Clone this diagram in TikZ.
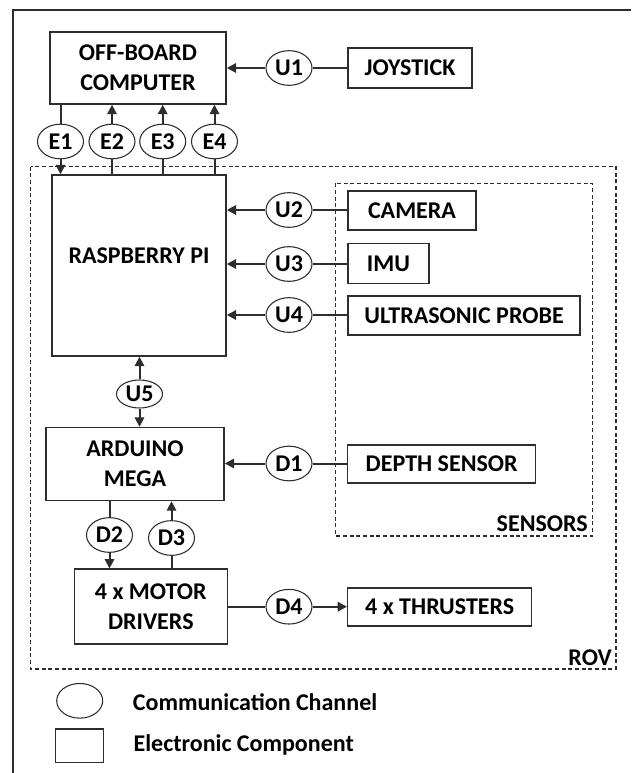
\documentclass[tikz,border=0pt]{standalone}
\usepackage{fontspec}
\setmainfont{Carlito}
\usetikzlibrary{arrows.meta,shapes.geometric}
\definecolor{LineGray}{RGB}{45,45,45}

\begin{document}
\begin{tikzpicture}[
    x=0.75pt, y=-0.75pt,
    box/.style={draw=LineGray, line width=1.1pt, minimum width=#1, inner sep=0pt, align=center,
        font=\fontsize{18}{22.5}\selectfont\bfseries},
    chan/.style={draw=LineGray, ellipse, line width=0.8pt, minimum width=34.5pt, minimum height=26pt, inner sep=0pt,
        font=\fontsize{18}{20}\selectfont\bfseries},
    conn/.style={line width=1.5pt, LineGray},
    arr/.style={conn, -{Triangle[length=7pt,width=7pt]}},
    dashbox/.style={draw=LineGray, line width=0.8pt, dash pattern=on 3pt off 2pt},
    lbl/.style={font=\fontsize{18}{20}\selectfont\bfseries, inner sep=0pt}
]
    \useasboundingbox (0,0) rectangle (631,773);
    % outer frame
    \draw[line width=1.5pt, LineGray] (13,773) -- (13,10) -- (631,10);

    % containers
    \draw[dashbox] (30.7,166.7) rectangle (616,669);
    \draw[dashbox] (335.7,183.3) rectangle (592.3,536);
    \node[lbl, anchor=base east] (rovtext) at (612,665) {ROV};
    \node[lbl, anchor=base east] (senstext) at (588,531.5) {SENSORS};

    % components
    \node[box=132pt, minimum height=54pt] (comp) at (138,68) {OFF-BOARD\\COMPUTER};
    \node[box=93pt, minimum height=30pt] (joy) at (410,68) {JOYSTICK};
    \node[box=130.5pt, minimum height=135.75pt] (pi) at (139,265.5) {};
    \node[lbl] (pitext) at (139,256) {RASPBERRY PI};
    \node[box=96pt, minimum height=29.25pt] (cam) at (412,210.5) {CAMERA};
    \node[box=60.75pt, minimum height=30pt] (imu) at (388.5,263.5) {IMU};
    \node[box=174pt, minimum height=29.25pt] (ultra) at (464,315.5) {ULTRASONIC PROBE};
    \node[box=133.5pt, minimum height=54.75pt] (ard) at (135,464) {ARDUINO\\MEGA};
    \node[box=141pt, minimum height=28.5pt] (depth) at (441.7,463.8) {DEPTH SENSOR};
    \node[box=114.75pt, minimum height=56.25pt] (motor) at (150.8,606.7) {4 x MOTOR\\DRIVERS};
    \node[box=138pt, minimum height=28.5pt] (thr) at (439.7,607) {4 x THRUSTERS};

    % channels
    \node[chan] (u1) at (289,68) {U1};
    \node[chan] (e1) at (60.5,141.5) {E1};
    \node[chan] (e2) at (112,141.5) {E2};
    \node[chan] (e3) at (162.7,141.5) {E3};
    \node[chan] (e4) at (214.5,141.5) {E4};
    \node[chan] (u2) at (289,210) {U2};
    \node[chan] (u3) at (289,264) {U3};
    \node[chan] (u4) at (289,315) {U4};
    \node[chan, minimum height=21pt] (u5) at (139.5,394) {U5};
    \node[chan] (d1) at (289,463.5) {D1};
    \node[chan] (d2) at (109.5,535) {D2};
    \node[chan] (d3) at (171.5,538) {D3};
    \node[chan] (d4) at (289,606.7) {D4};

    % links
    \draw[conn] (joy) -- (u1);
    \draw[arr] (u1) -- (comp);
    \draw[conn] (e1 |- comp.south) -- (e1);
    \draw[arr] (e1) -- (e1 |- pi.north);
    \foreach \ch in {e2,e3,e4} {
        \draw[conn] (\ch |- pi.north) -- (\ch);
        \draw[arr] (\ch) -- (\ch |- comp.south);
    }
    \foreach \ch/\src in {u2/cam,u3/imu,u4/ultra} {
        \draw[conn] (\ch -| \src.west) -- (\ch);
        \draw[arr] (\ch) -- (\ch -| pi.east);
    }
    \draw[arr] (u5) -- (u5 |- pi.south);
    \draw[arr] (u5) -- (u5 |- ard.north);
    \draw[conn] (d1 -| depth.west) -- (d1);
    \draw[arr] (d1) -- (d1 -| ard.east);
    \draw[conn] (d2 |- ard.south) -- (d2);
    \draw[arr] (d2) -- (d2 |- motor.north);
    \draw[conn] (d3 |- motor.north) -- (d3);
    \draw[arr] (d3) -- (d3 |- ard.south);
    \draw[conn] (d4 -| motor.east) -- (d4);
    \draw[arr] (d4) -- (d4 -| thr.west);

    % legend
    \node[chan] (keychan) at (79.7,700.8) {};
    \node[box=35.7pt, minimum height=25.3pt] (keybox) at (79.5,745.8) {};
    \node[lbl, anchor=west] (keychantext) at (132.7,702) {Communication Channel};
    \node[lbl, anchor=west] (keyboxtext) at (133.3,745) {Electronic Component};
\end{tikzpicture}
\end{document}
